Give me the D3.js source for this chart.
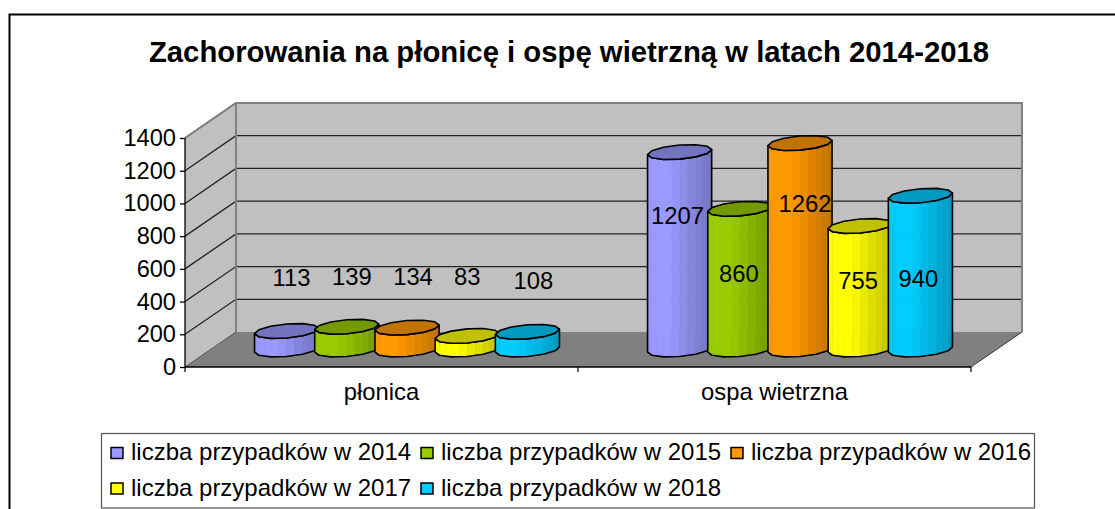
<!DOCTYPE html>
<html><head><meta charset="utf-8">
<script src="https://cdn.jsdelivr.net/npm/d3@7/dist/d3.min.js"></script>
<style>html,body{margin:0;padding:0;background:#fff;overflow:hidden}svg{display:block}text{font-family:"Liberation Sans",Arial,sans-serif;fill:#000}</style>
</head><body><svg id="c" width="1115" height="509"></svg>
<script>
const title = "Zachorowania na płonicę i ospę wietrzną w latach 2014-2018";
const categories = ["płonica", "ospa wietrzna"];
const seriesNames = ["liczba przypadków w 2014","liczba przypadków w 2015","liczba przypadków w 2016","liczba przypadków w 2017","liczba przypadków w 2018"];
const values2014 = [113, 1207];
const values2015 = [139, 860];
const values2016 = [134, 1262];
const values2017 = [83, 755];
const values2018 = [108, 940];
const yTicks = [0,200,400,600,800,1000,1200,1400];
const seriesValues = [values2014, values2015, values2016, values2017, values2018];
const seriesColors = ["#9999FF","#99CC00","#FF9900","#FFFF00","#00CCFF"];

// layout (manually placed data labels in the original)
const labelNudgeX = [[5,5,6,0,6],[-2,-1,5,-2,-2]];
const labelNudgeY = [[-54,-50,-51,-59,-51],[63,65,60,54,83]];
const depth = {x:51, y:-35};
const svg = d3.select("#c");
const x = d3.scaleBand().domain(categories).range([185,971]);
const y = d3.scaleLinear().domain([0,1400]).range([367,138]);
const xs = d3.scaleBand().domain(d3.range(5)).range([0,301]);

svg.append("path").attr("d","M9.5,509V14.5H1115").attr("fill","none").attr("stroke","#000").attr("stroke-width",2);
svg.append("text").attr("x",569).attr("y",61.5).attr("text-anchor","middle").attr("font-weight","bold").attr("font-size",29.3).text(title);

const X0=x.range()[0], X1=x.range()[1], Y0=y(0), YT=y(1400), dx=depth.x, dy=depth.y;
const poly = p => "M"+p.map(q=>q.join(",")).join("L")+"Z";
svg.append("path").attr("d",poly([[X0,YT],[X0+dx,YT+dy],[X0+dx,Y0+dy],[X0,Y0]])).attr("fill","#C0C0C0");
svg.append("path").attr("d",poly([[X0+dx,YT+dy],[X1+dx,YT+dy],[X1+dx,Y0+dy],[X0+dx,Y0+dy]])).attr("fill","#C0C0C0");
svg.append("path").attr("d",poly([[X0,Y0],[X1,Y0],[X1+dx,Y0+dy],[X0+dx,Y0+dy]])).attr("fill","#808080");
// grid lines
yTicks.slice(1,-1).concat([1400]).forEach(t=>{
  const yy=y(t);
  svg.append("path").attr("d",`M${X0},${yy}L${X0+dx},${yy+dy}H${X1+dx}`).attr("fill","none").attr("stroke",t==1400?"#444":"#222").attr("stroke-width",1.3);
});
svg.append("path").attr("d",`M${X0},${YT}L${X0+dx},${YT+dy}H${X1+dx}V${Y0+dy}M${X0+dx},${YT+dy}V${Y0+dy}`).attr("fill","none").attr("stroke","#808080").attr("stroke-width",2);
svg.append("path").attr("d",`M${X0},${Y0}L${X0+dx},${Y0+dy}`).attr("stroke","#555").attr("stroke-width",1);
svg.append("path").attr("d",`M${X1},${Y0}L${X1+dx},${Y0+dy}`).attr("stroke","#333").attr("stroke-width",1);

// axes
const ya = svg.append("g").attr("transform",`translate(${X0},0)`).call(d3.axisLeft(y).tickValues(yTicks).tickSize(5).tickPadding(4).tickFormat(d3.format("d")));
ya.selectAll("text").attr("font-size",23.6).style("font-family",'"Liberation Sans",Arial,sans-serif');
ya.selectAll("line,path").attr("stroke","#000").attr("stroke-width",1.3);
ya.select("path.domain").attr("d",`M0,${YT}V${Y0}`);
const xa = svg.append("g").attr("transform",`translate(0,${Y0})`).call(d3.axisBottom(x).tickSize(0).tickPadding(16.5));
xa.selectAll("text").attr("font-size",23.8).style("font-family",'"Liberation Sans",Arial,sans-serif');
xa.select("path.domain").attr("d",`M${X0},0H${X1}`).attr("stroke","#000").attr("stroke-width",1.5);
[X0, x(categories[1]), X1].forEach(t=>xa.append("line").attr("x1",t).attr("x2",t).attr("y1",0).attr("y2",5).attr("stroke","#000").attr("stroke-width",1.2));

// cylinders
const W = xs.bandwidth(), cdx=22, cdy=15;
const ring = (cx,cy,a)=>[cx+Math.cos(a)*W/2+Math.sin(a)*cdx/2, cy-Math.sin(a)*cdy/2];
const t0 = Math.atan2(cdx,W), N=6, STRIPS=2;
const angles = d3.range(2*N).map(i=>t0+Math.PI+i*Math.PI/N);
const line = d3.line();
const labels = svg.append("g");
categories.forEach((cat,ci)=>{
  const gx = x(cat)+x.bandwidth()/2 - xs.range()[1]/2 + dx/2;
  seriesValues.forEach((vals,si)=>{
    const cx = gx + xs(si) + W/2, v=vals[ci];
    const base = y(0)+dy/2, top = y(v)+dy/2;
    const g = svg.append("g");
    const front = [...angles.slice(0,N), t0+2*Math.PI];
    const colorAt = d3.scaleLinear().domain([0,.35,1]).range([seriesColors[si],seriesColors[si],d3.rgb(seriesColors[si]).darker(.8)]).interpolate(d3.interpolateRgb);
    for(let i=0;i<N;i++){
      const A=ring(cx,base,front[i]),B=ring(cx,base,front[i+1]),At=ring(cx,top,front[i]),Bt=ring(cx,top,front[i+1]);
      for(let k=0;k<STRIPS;k++){
        const l=(P,Q,s)=>[P[0]+(Q[0]-P[0])*s,P[1]+(Q[1]-P[1])*s];
        const s0=k/STRIPS,s1=(k+1)/STRIPS;
        const f=(l(A,B,s0)[0]+l(A,B,s1)[0])/2;
        const c=colorAt((f-cx)/Math.hypot(W,cdx)+.5);
        g.append("path").attr("d",poly([l(A,B,s0),l(A,B,s1),l(At,Bt,s1),l(At,Bt,s0)])).attr("fill",c).attr("stroke",c).attr("stroke-width",.5);
      }
    }
    const outline=[...front.map(a=>ring(cx,base,a)),...front.slice().reverse().map(a=>ring(cx,top,a))];
    g.append("path").attr("d",line(outline)+"Z").attr("fill","none").attr("stroke","#000").attr("stroke-width",1.6).attr("stroke-linejoin","round");
    g.append("path").attr("d",line(angles.map(a=>ring(cx,top,a)))+"Z").attr("fill",d3.rgb(seriesColors[si]).darker(.8)).attr("stroke","#000").attr("stroke-width",1.6).attr("stroke-linejoin","round");
    labels.append("text").attr("x",cx+labelNudgeX[ci][si]).attr("y",top+labelNudgeY[ci][si]).attr("dy",".36em").attr("text-anchor","middle").attr("font-size",23.8).text(v);
  });
});
labels.raise();

// legend
svg.append("rect").attr("x",101.5).attr("y",433.5).attr("width",933).attr("height",74.5).attr("fill","#fff").attr("stroke","#555").attr("stroke-width",1.2);
const lx = d3.scalePoint().domain([0,1,2]).range([111,731]);
const ly = d3.scalePoint().domain([0,1]).range([447.5,483]);
seriesNames.forEach((n,i)=>{
  const c=i%3, r=Math.floor(i/3);
  svg.append("rect").attr("x",lx(c)).attr("y",ly(r)).attr("width",12).attr("height",11).attr("fill",seriesColors[i]).attr("stroke","#000").attr("stroke-width",1.5);
  svg.append("text").attr("x",lx(c)+20).attr("y",ly(r)+12.5).attr("font-size",24).text(n);
});
</script></body></html>
